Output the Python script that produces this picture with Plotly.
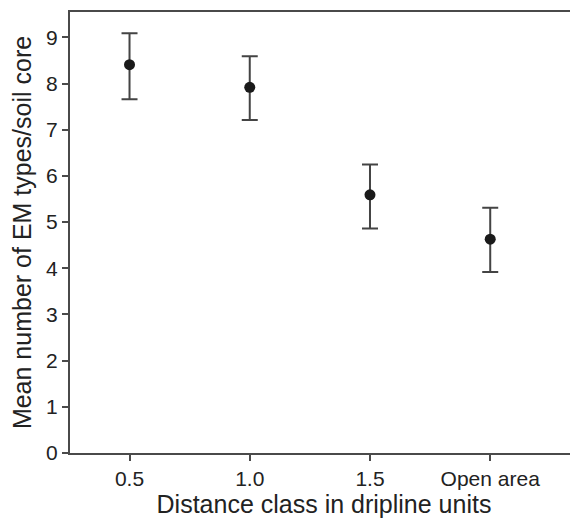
import plotly.graph_objects as go

categories = ["0.5", "1.0", "1.5", "Open area"]
means = [8.41, 7.92, 5.59, 4.63]
err_plus = [0.68, 0.67, 0.66, 0.68]
err_minus = [0.75, 0.71, 0.73, 0.71]
y_ticks = [0, 1, 2, 3, 4, 5, 6, 7, 8, 9]

axis_color = "#4a4a4a"
text_color = "#222222"
font_family = "Liberation Sans, Arial, Helvetica, sans-serif"

fig = go.Figure(
    go.Scatter(
        x=categories,
        y=means,
        mode="markers",
        marker=dict(size=11, color="#1a1a1a"),
        error_y=dict(
            type="data",
            symmetric=False,
            array=err_plus,
            arrayminus=err_minus,
            color="#444444",
            thickness=2,
            width=8,
        ),
        showlegend=False,
    )
)

# page body has an 8px default margin, so the figure is sized to fill the rest
fig.update_layout(
    width=570,
    height=513,
    margin=dict(l=62, r=0, t=4, b=68),
    plot_bgcolor="white",
    paper_bgcolor="white",
    font=dict(family=font_family, size=21, color=text_color),
)

fig.update_xaxes(
    type="category",
    range=[-0.495, 3.73],
    showgrid=False,
    zeroline=False,
    showline=True,
    linecolor=axis_color,
    linewidth=2,
    mirror=True,
    ticks="outside",
    ticklen=6,
    tickwidth=2,
    tickcolor=axis_color,
    tickfont=dict(size=21, color=text_color),
    title=dict(text="Distance class in dripline units", font=dict(size=25, color=text_color), standoff=6),
)

fig.update_yaxes(
    range=[0, 9.55],
    tickvals=y_ticks,
    showgrid=False,
    zeroline=False,
    showline=True,
    linecolor=axis_color,
    linewidth=2,
    mirror=False,
    ticks="outside",
    ticklen=6,
    tickwidth=2,
    tickcolor=axis_color,
    tickfont=dict(size=21, color=text_color),
    title=dict(text="Mean number of EM types/soil core", font=dict(size=25, color=text_color), standoff=8),
)

fig.write_html("out.html")
